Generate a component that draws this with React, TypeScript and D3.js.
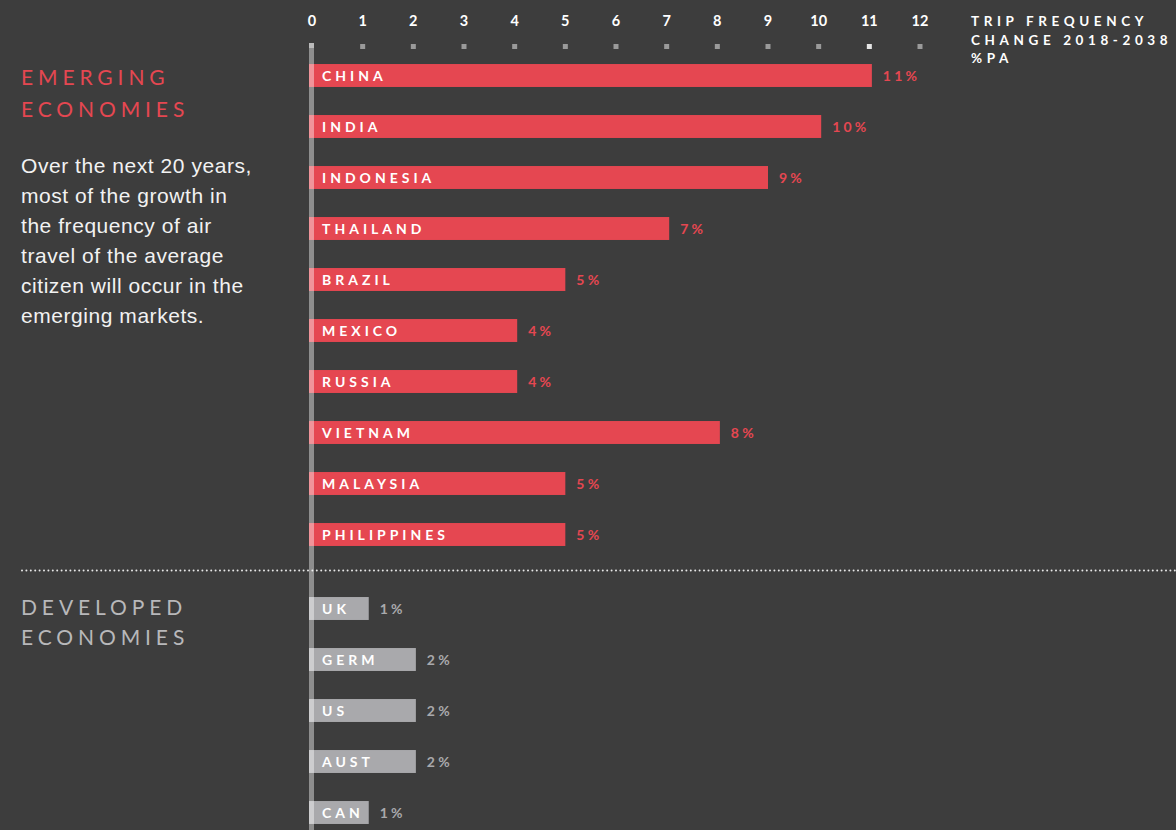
import React from "react";
import * as d3 from "d3";

const emergingCountries = ["CHINA", "INDIA", "INDONESIA", "THAILAND", "BRAZIL", "MEXICO", "RUSSIA", "VIETNAM", "MALAYSIA", "PHILIPPINES"];
const emergingValues = [11.05, 10.05, 9.0, 7.05, 5.0, 4.05, 4.05, 8.05, 5.0, 5.0];
const emergingLabels = ["11%", "10%", "9%", "7%", "5%", "4%", "4%", "8%", "5%", "5%"];

const developedCountries = ["UK", "GERM", "US", "AUST", "CAN"];
const developedValues = [1.12, 2.05, 2.05, 2.05, 1.12];
const developedLabels = ["1%", "2%", "2%", "2%", "1%"];

const tickValues = [0, 1, 2, 3, 4, 5, 6, 7, 8, 9, 10, 11, 12];
const highlightTick = 11;

const paragraph = [
  "Over the next 20 years,",
  "most of the growth in",
  "the frequency of air",
  "travel of the average",
  "citizen will occur in the",
  "emerging markets.",
];

const W = 1176;
const H = 830;
const BG = "#3d3d3d";
const RED = "#e54751";
const GREY = "#a9a9ac";
const GEO = "Lato, 'Open Sans', sans-serif";
const SANS = "'Liberation Sans', Arial, sans-serif";

export default function App() {
  const x = d3.scaleLinear().domain([0, 12]).range([312, 920]);
  const yE = d3.scaleBand<string>().domain(emergingCountries).range([50, 560]).paddingInner(0.55).paddingOuter(0.275);
  const yD = d3.scaleBand<string>().domain(developedCountries).range([583, 838]).paddingInner(0.55).paddingOuter(0.275);

  const bar = (name: string, v: number, label: string, y: d3.ScaleBand<string>, color: string) => {
    const y0 = y(name)!;
    const bh = y.bandwidth();
    const x1 = x(v);
    return (
      <g key={name}>
        <rect x={x(0) - 3} y={y0} width={x1 - x(0) + 3} height={bh} fill={color} />
        <text x={x(0) + 10} y={y0 + bh / 2 + 5} fill="#fff" fontFamily={GEO} fontWeight={700} fontSize={14} letterSpacing={4.0}>
          {name}
        </text>
        <text x={x1 + 11} y={y0 + bh / 2 + 5} fill={color} fontFamily={GEO} fontWeight={700} fontSize={14} letterSpacing={3.2}>
          {label}
        </text>
      </g>
    );
  };

  return (
    <div style={{ position: "absolute", left: 0, top: 0 }}>
      <svg width={W} height={H} style={{ display: "block", background: BG }}>
        <rect width={W} height={H} fill={BG} />
        {tickValues.map((t) => (
          <g key={t}>
            <text x={x(t)} y={26} textAnchor="middle" fill="#fff" fontFamily={GEO} fontWeight={700} fontSize={14.5}>
              {t}
            </text>
            {t !== 0 && (
              <rect x={x(t) - 2.5} y={44} width={5} height={5} fill={t === highlightTick ? "#e6e6e6" : "#9a9a9a"} />
            )}
          </g>
        ))}
        {["TRIP FREQUENCY", "CHANGE 2018-2038", "%PA"].map((s, i) => (
          <text key={s} x={971} y={26 + i * 18.5} fill="#fff" fontFamily={GEO} fontWeight={700} fontSize={13.5} letterSpacing={4.6}>
            {s}
          </text>
        ))}
        {["EMERGING", "ECONOMIES"].map((s, i) => (
          <text key={s} x={21} y={85 + i * 32} fill={RED} fontFamily={GEO} fontSize={21} letterSpacing={4.9}>
            {s}
          </text>
        ))}
        {["DEVELOPED", "ECONOMIES"].map((s, i) => (
          <text key={"d" + s} x={21} y={615 + i * 30} fill="#b8b8ba" fontFamily={GEO} fontSize={21} letterSpacing={4.9}>
            {s}
          </text>
        ))}
        {paragraph.map((s, i) => (
          <text key={s} x={21} y={173 + i * 30} fill="#f2f2f2" fontFamily={SANS} fontSize={21} letterSpacing={0.55}>
            {s}
          </text>
        ))}
        {emergingCountries.map((c, i) => bar(c, emergingValues[i], emergingLabels[i], yE, RED))}
        {developedCountries.map((c, i) => bar(c, developedValues[i], developedLabels[i], yD, GREY))}
        <line x1={22} x2={W} y1={570.5} y2={570.5} stroke="#e8e8e8" strokeWidth={2} strokeDasharray="0 4.4" strokeLinecap="round" />
        <rect x={x(0) - 3} y={43} width={5} height={H - 43} fill="#fff" opacity={0.42} />
        <rect x={x(0) - 3} y={43} width={5} height={5} fill="#fff" opacity={0.4} />
      </svg>
    </div>
  );
}
